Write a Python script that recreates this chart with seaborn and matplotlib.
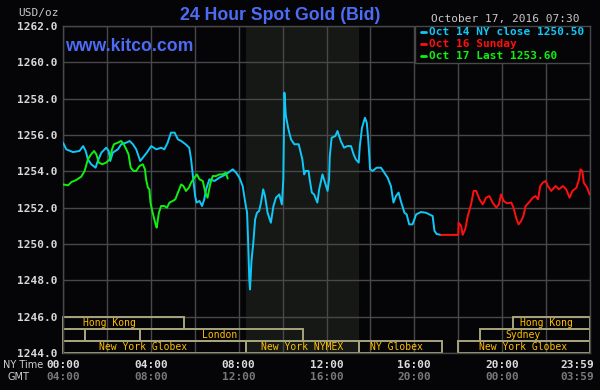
import numpy as np
import pandas as pd
import seaborn as sns
import matplotlib.pyplot as plt
from matplotlib.patches import Rectangle
from matplotlib.transforms import blended_transform_factory

# Zaman: New York saatine göre gece yarısından itibaren dakika, fiyat: USD/oz (bid)
oct14_min = [0, 9, 27, 45, 55, 62, 68, 77, 89, 95, 105, 118, 125, 129, 136, 150, 159, 173, 182, 191,
             200, 211, 218, 229, 241, 255, 268, 277, 286, 295, 305, 314, 323, 335, 345, 350, 356, 361, 365, 373,
             380, 386, 391, 400, 414, 427, 445, 464, 473, 482, 491, 498, 503, 506, 509, 511, 515, 520, 525, 530,
             536, 541, 547, 552, 559, 568, 575, 582, 591, 598, 602, 605, 609, 616, 623, 632, 644,
             654, 659, 663, 671, 674, 680, 686, 695, 700, 709, 716, 723, 727, 729, 734, 744, 750, 759, 768,
             777, 787, 794, 800, 808, 811, 817, 825, 830, 834, 837, 839, 846, 857, 869, 878, 887, 896, 903,
             910, 917, 923, 933, 939, 946, 955, 965, 978, 992, 1001, 1010, 1015, 1021, 1033]
oct14_bid = [1255.58, 1255.21, 1255.06, 1255.12, 1255.39, 1255.12, 1254.66, 1254.39, 1254.20, 1254.57,
             1255.03, 1255.30, 1255.12, 1254.57, 1255.03, 1255.21, 1255.49, 1255.58, 1255.67, 1255.49,
             1255.21, 1254.57, 1254.75, 1255.03, 1255.39, 1255.21, 1255.30, 1255.21, 1255.58, 1256.13,
             1256.13, 1255.76, 1255.67, 1255.49, 1255.30, 1254.66, 1253.56, 1252.64, 1252.28, 1252.37,
             1252.09, 1252.46, 1253.01, 1253.56, 1253.47, 1253.65, 1253.83, 1254.11, 1253.93, 1253.65,
             1253.19, 1252.28, 1251.72, 1250.07, 1248.06, 1247.50, 1249.06, 1250.07, 1251.36, 1251.72,
             1251.82, 1252.28, 1253.01, 1252.64, 1251.72, 1251.17, 1252.09, 1252.55, 1252.73, 1252.18,
             1253.56, 1258.33, 1257.05, 1256.31, 1255.76, 1255.49, 1255.49,
             1254.66, 1253.83, 1254.02, 1254.02, 1253.56, 1252.83, 1252.73, 1252.28, 1253.01, 1253.83,
             1253.38, 1252.92, 1253.56, 1254.84, 1255.85, 1255.94, 1256.22, 1255.67, 1255.30, 1255.39,
             1255.39, 1254.94, 1254.66, 1254.48, 1255.39, 1256.40, 1256.95, 1256.68, 1255.76, 1254.84,
             1254.11, 1254.02, 1254.20, 1254.20, 1253.93, 1253.65, 1253.19, 1252.28, 1252.64, 1252.83,
             1252.37, 1251.72, 1251.63, 1251.08, 1251.08, 1251.63, 1251.76, 1251.72, 1251.63, 1251.54,
             1250.72, 1250.55, 1250.50]

oct16_min = [1033, 1080, 1081, 1088, 1092, 1099, 1106, 1115, 1122, 1129, 1138, 1147, 1156, 1165, 1174,
             1184, 1191, 1197, 1204, 1213, 1225, 1231, 1238, 1245, 1252, 1258, 1264, 1273, 1284, 1291,
             1298, 1304, 1311, 1319, 1325, 1334, 1346, 1355, 1366, 1375, 1384, 1392, 1403, 1410, 1414,
             1419, 1423, 1432, 1439]
oct16_bid = [1250.50, 1250.50, 1251.17, 1250.99, 1250.50, 1250.81, 1251.54, 1252.18, 1252.92, 1252.92,
             1252.46, 1252.18, 1252.55, 1252.64, 1252.28, 1252.00, 1252.18, 1252.73, 1252.37, 1252.24,
             1252.28, 1252.00, 1251.45, 1251.08, 1251.27, 1251.54, 1252.09, 1252.28, 1252.55, 1252.64,
             1252.46, 1253.19, 1253.38, 1253.47, 1253.19, 1252.92, 1253.19, 1253.01, 1253.19, 1253.01,
             1252.55, 1252.92, 1253.10, 1253.56, 1254.11, 1254.02, 1253.38, 1253.10, 1252.73]

oct17_min = [0, 14, 23, 36, 50, 59, 68, 77, 85, 91, 98, 107, 118, 127, 134, 139, 150, 159, 166, 173,
             179, 185, 193, 200, 209, 218, 224, 227, 232, 236, 239, 245, 253, 256, 262, 268, 277, 284, 291, 300,
             307, 314, 323, 329, 336, 344, 350, 359, 366, 373, 382, 389, 395, 402, 409, 418, 427, 436, 445, 450]
oct17_bid = [1253.28, 1253.23, 1253.41, 1253.52, 1253.71, 1254.02, 1254.66, 1254.94, 1255.12, 1254.94,
             1254.48, 1254.39, 1254.48, 1254.66, 1255.21, 1255.49, 1255.58, 1255.67, 1255.49, 1255.21,
             1254.94, 1254.20, 1254.02, 1254.02, 1254.29, 1254.39, 1254.11, 1253.56, 1253.10, 1253.01,
             1252.28, 1251.72, 1251.08, 1250.90, 1251.72, 1252.09, 1252.09, 1252.00, 1252.28, 1252.37,
             1252.46, 1252.83, 1253.28, 1253.19, 1252.92, 1253.10, 1253.38, 1253.65, 1253.83, 1253.56,
             1253.47, 1252.83, 1252.55, 1253.28, 1253.74, 1253.74, 1253.83, 1253.83, 1253.93, 1253.60]

legend_labels = ["Oct 14 NY close 1250.50", "Oct 16 Sunday", "Oct 17 Last 1253.60"]
line_colors = ["#10c8f8", "#ff1010", "#10f010"]

y_ticks = [1244, 1246, 1248, 1250, 1252, 1254, 1256, 1258, 1260, 1262]
x_tick_min = [0, 240, 480, 720, 960, 1200, 1405]
ny_labels = ["00:00", "04:00", "08:00", "12:00", "16:00", "20:00", "23:59"]
gmt_labels = ["04:00", "08:00", "12:00", "16:00", "20:00", "00:00", "03:59"]

# Piyasa seansları: (etiket, başlangıç dk, bitiş dk, satır, etiket konumu dk)
sessions = [
    ("Hong Kong", 0, 330, 0, 127),
    ("", 0, 60, 1, None),
    ("", 60, 210, 1, None),
    ("London", 210, 656, 1, 429),
    ("New York Globex", 0, 500, 2, 219),
    ("New York NYMEX", 500, 810, 2, 654),
    ("NY Globex", 810, 1035, 2, 911),
    ("Hong Kong", 1230, 1440, 0, 1322),
    ("Sydney", 1140, 1440, 1, 1258),
    ("New York Globex", 1080, 1440, 2, 1258),
]
nymex_span = (500, 810)

bg = "#050407"
grid_c = "#484848"
box_c = "#a8a47c"
txt_c = "#ffc000"
mono = "DejaVu Sans Mono"

sns.set_theme(style="darkgrid", rc={
    "axes.facecolor": bg, "figure.facecolor": bg, "grid.color": grid_c,
    "axes.edgecolor": grid_c, "grid.linewidth": 1.0,
})
plt.rcParams['font.family'] = ['DejaVu Sans']

fig = plt.figure(figsize=(6, 3.9), dpi=100)
ax = fig.add_axes([63 / 600, 37 / 390, 527 / 600, 327 / 390])

ax.axvspan(*nymex_span, color="#151815", zorder=0.4, lw=0)

series = [(oct14_min, oct14_bid), (oct16_min, oct16_bid), (oct17_min, oct17_bid)]
for (m, b), c in zip(series, line_colors):
    df = pd.DataFrame({"dk": m, "bid": b})
    sns.lineplot(data=df, x="dk", y="bid", color=c, linewidth=1.4, ax=ax, zorder=3)

ax.set_xlim(0, 1440)
ax.set_ylim(1244, 1262)
ax.set_xticks(range(0, 1441, 120))
ax.set_xticklabels([])
ax.set_yticks(y_ticks)
ax.set_yticklabels([f"{v:.1f}" for v in y_ticks], color="#d8d8d8",
                   family=mono, fontweight="bold", fontsize=8)
ax.tick_params(length=0, pad=4)
ax.set_xlabel("")
ax.set_ylabel("")
ax.set_axisbelow(True)
for s in ax.spines.values():
    s.set_color(grid_c)
    s.set_linewidth(1.0)

# seans kutuları
row_h = 2 / 3
for lab, x0, x1, row, xl in sessions:
    y0 = 1246 - (row + 1) * row_h
    ax.add_patch(Rectangle((x0, y0), x1 - x0, row_h, fill=False, edgecolor=box_c,
                           lw=1.4, zorder=2, clip_on=False))
    if lab:
        ax.text(xl, y0 + row_h / 2, lab, color=txt_c, family=mono, fontsize=7,
                ha="center", va="center", zorder=4)

# lejant kutusu
ax.add_patch(Rectangle((0.668, 0.886), 0.332, 0.114, transform=ax.transAxes,
                       facecolor=bg, edgecolor=grid_c, lw=1.0, zorder=5))
for i, (lab, c) in enumerate(zip(legend_labels, line_colors)):
    yy = 0.981 - i * 0.036
    ax.plot([0.680, 0.689], [yy, yy], color=c, lw=2, transform=ax.transAxes, zorder=6)
    ax.text(0.695, yy, lab, color=c, family=mono, fontweight="bold", fontsize=8,
            ha="left", va="center", transform=ax.transAxes, zorder=6)

# saat etiketleri
tr = blended_transform_factory(ax.transData, ax.transAxes)
for xm, ny, gmt in zip(x_tick_min, ny_labels, gmt_labels):
    ax.text(xm, -0.037, ny, color="#dcdcdc", family=mono, fontweight="bold",
            fontsize=8, ha="center", va="center", transform=tr)
    ax.text(xm, -0.074, gmt, color="#787878", family=mono, fontweight="bold",
            fontsize=8, ha="center", va="center", transform=tr)

fig.text(0.0045, 1 - 365 / 390, "NY Time", color="#d0d0d0", fontsize=7, ha="left", va="center")
fig.text(0.03, 1 - 377 / 390, "GMT", color="#d0d0d0", fontsize=7, ha="center", va="center")

fig.text(280 / 600, 1 - 15 / 390, "24 Hour Spot Gold (Bid)", color="#4d6cf5",
         family="Liberation Sans", fontweight="bold", fontsize=12.7, ha="center", va="center")
fig.text(65 / 600, 1 - 46.7 / 390, "www.kitco.com", color="#4d6cf5",
         family="Liberation Sans", fontweight="bold", fontsize=12.7, ha="left", va="center")
fig.text(18 / 600, 1 - 12.7 / 390, "USD/oz", color="#c8c8c8", family=mono,
         fontsize=8, ha="left", va="center")
fig.text(579.5 / 600, 1 - 19 / 390, "October 17, 2016 07:30", color="#c8c8c8",
         family=mono, fontsize=8, ha="right", va="center")

fig.savefig("out.png", dpi=100, facecolor=bg)
